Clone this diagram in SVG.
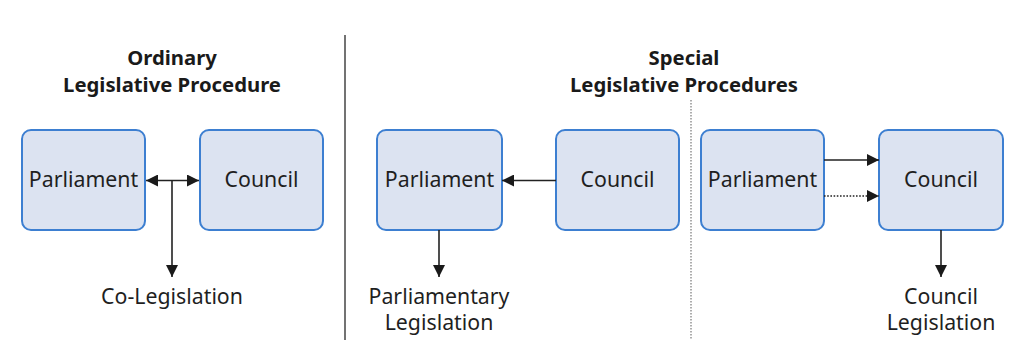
<svg xmlns="http://www.w3.org/2000/svg" width="1024" height="362" viewBox="0 0 1024 362">
<style>
.box{fill:#dce3f1;stroke:#3d7fd1;stroke-width:2}
.lbl{font-family:"Noto Sans","Open Sans",sans-serif;font-size:21.3px;fill:#1f1f1f;text-anchor:middle}
.ttl{font-family:"Noto Sans","Open Sans",sans-serif;font-size:20.3px;font-weight:bold;fill:#1a1a1a;text-anchor:middle}
.ln{stroke:#222;stroke-width:1.6;fill:none}
.dot{stroke:#222;stroke-width:1.6;fill:none;stroke-dasharray:1.6 1.6}
</style>
<defs>
<marker id="ah" viewBox="0 0 12 12" refX="12" refY="6" markerWidth="12" markerHeight="12" markerUnits="userSpaceOnUse" orient="auto-start-reverse">
<path d="M0,0 L12,6 L0,12 Z" fill="#1a1a1a"/>
</marker>
</defs>
<rect width="1024" height="362" fill="#fff"/>
<g id="titles">
<text class="ttl" x="172" y="65">Ordinary</text>
<text class="ttl" x="172" y="92">Legislative Procedure</text>
<text class="ttl" x="684" y="65">Special</text>
<text class="ttl" x="684" y="92">Legislative Procedures</text>
</g>
<g id="dividers">
<line x1="345" y1="35" x2="345" y2="340" stroke="#444" stroke-width="1.5"/>
<line x1="691" y1="100" x2="691" y2="340" stroke="#777" stroke-width="1.2" stroke-dasharray="1.5 1.5"/>
</g>
<g id="ord-parliament"><rect class="box" x="22" y="130" width="123" height="100" rx="9"/><text class="lbl" x="83.5" y="187">Parliament</text></g>
<g id="ord-council"><rect class="box" x="200" y="130" width="123" height="100" rx="9"/><text class="lbl" x="261.5" y="187">Council</text></g>
<g id="sp1-parliament"><rect class="box" x="377" y="130" width="125" height="100" rx="9"/><text class="lbl" x="439.5" y="187">Parliament</text></g>
<g id="sp1-council"><rect class="box" x="556" y="130" width="123" height="100" rx="9"/><text class="lbl" x="617.5" y="187">Council</text></g>
<g id="sp2-parliament"><rect class="box" x="701" y="130" width="123" height="100" rx="9"/><text class="lbl" x="762.5" y="187">Parliament</text></g>
<g id="sp2-council"><rect class="box" x="879" y="130" width="124" height="100" rx="9"/><text class="lbl" x="941" y="187">Council</text></g>
<g id="outputs">
<text class="lbl" x="172" y="304">Co-Legislation</text>
<text class="lbl" x="439" y="304">Parliamentary</text>
<text class="lbl" x="439" y="330">Legislation</text>
<text class="lbl" x="941" y="304">Council</text>
<text class="lbl" x="941" y="330">Legislation</text>
</g>
<g id="connectors">
<line class="ln" x1="146" y1="180.5" x2="199" y2="180.5" marker-start="url(#ah)" marker-end="url(#ah)"/>
<line class="ln" x1="172" y1="180.5" x2="172" y2="277" marker-end="url(#ah)"/>
<line class="ln" x1="556" y1="180.5" x2="502" y2="180.5" marker-end="url(#ah)"/>
<line class="ln" x1="439" y1="230" x2="439" y2="277" marker-end="url(#ah)"/>
<line class="ln" x1="824" y1="160" x2="879" y2="160" marker-end="url(#ah)"/>
<line class="dot" x1="824" y1="196" x2="879" y2="196" marker-end="url(#ah)"/>
<line class="ln" x1="941" y1="230" x2="941" y2="277" marker-end="url(#ah)"/>
</g>
</svg>
